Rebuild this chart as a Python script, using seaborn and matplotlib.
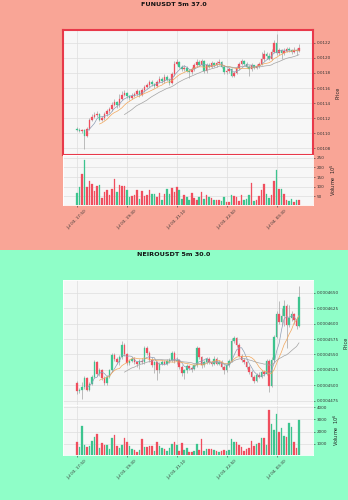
import numpy as np
import pandas as pd
import matplotlib
matplotlib.use("Agg")
import matplotlib.pyplot as plt
from matplotlib.patches import Rectangle
from matplotlib.ticker import FixedLocator, FormatStrFormatter
import seaborn as sns

sns.set_theme(style="whitegrid")
plt.rcParams['font.family'] = ['DejaVu Sans']

# ---------------- FUNUSDT (prices in 1e-6, volume in 1e5) ----------------
fun_open = [11060,11045,11035,11045,10960,11060,11180,11220,11240,11260,
            11180,11200,11250,11290,11320,11380,11410,11370,11460,11510,
            11530,11490,11470,11500,11520,11560,11510,11570,11610,11640,
            11680,11650,11630,11680,11720,11690,11750,11710,11670,11780,
            11920,11950,11880,11850,11870,11830,11810,11850,11900,11950,
            11910,11960,11820,11900,11880,11930,11900,11930,11950,11880,
            11810,11830,11850,11760,11800,11860,11920,11960,11920,11880,
            11850,11900,11870,11890,11920,11980,12050,12020,11990,12080,
            12200,12060,12100,12060,12090,12120,12100,12080,12110,12090]
fun_close = [11045,11035,11045,10960,11060,11180,11220,11240,11260,11180,
             11200,11250,11290,11320,11380,11410,11370,11460,11510,11530,
             11490,11470,11500,11520,11560,11510,11570,11610,11640,11680,
             11650,11630,11680,11720,11690,11750,11710,11670,11780,11920,
             11950,11880,11850,11870,11830,11810,11850,11900,11950,11910,
             11960,11820,11900,11880,11930,11900,11930,11950,11880,11810,
             11830,11850,11760,11800,11860,11920,11960,11920,11880,11850,
             11900,11870,11890,11920,11980,12050,12020,11990,12080,12200,
             12060,12100,12060,12090,12120,12100,12080,12110,12090,12130]
fun_high = [11080,11070,11060,11055,11080,11200,11260,11280,11290,11270,
            11230,11280,11320,11350,11410,11450,11430,11520,11560,11580,
            11550,11510,11530,11550,11590,11570,11600,11640,11670,11710,
            11700,11670,11710,11760,11740,11780,11770,11730,11810,11960,
            11980,11960,11900,11900,11890,11850,11880,11930,11990,11970,
            11990,11970,11930,11930,11960,11950,11960,11980,11960,11900,
            11860,11880,11860,11830,11890,11950,11990,11970,11940,11900,
            11930,11910,11920,11950,12080,12100,12080,12060,12120,12230,
            12320,12130,12120,12130,12150,12140,12120,12140,12130,12180]
fun_low = [11035,11020,11010,10785,10950,11050,11160,11200,11220,11160,
           11160,11180,11230,11270,11300,11360,11340,11350,11440,11490,
           11470,11440,11450,11480,11500,11480,11500,11550,11600,11620,
           11630,11600,11610,11660,11670,11670,11690,11640,11650,11760,
           11900,11860,11820,11830,11810,11730,11790,11830,11880,11890,
           11890,11800,11800,11860,11860,11880,11880,11910,11860,11790,
           11790,11800,11740,11740,11780,11840,11900,11900,11860,11760,
           11830,11850,11850,11870,11900,11960,11990,11970,11970,12060,
           12040,12040,11990,12040,12080,12080,12050,12060,12040,12080]
fun_volume = [70,99,168,240,99,128,112,78,102,107,
              42,73,85,59,88,138,73,108,104,104,
              83,45,53,59,81,39,76,53,57,81,
              65,65,48,69,34,65,86,65,95,73,
              99,85,39,59,45,31,69,42,34,48,
              72,39,55,48,42,34,31,31,28,45,
              22,19,57,50,48,28,55,31,36,55,
              117,28,31,52,83,113,62,42,57,128,
              188,90,86,65,31,28,39,22,34,34]
fun_yticks = [0.0108, 0.0110, 0.0112, 0.0114, 0.0116, 0.0118, 0.0120, 0.0122]
fun_vticks = [50, 100, 150, 200, 250]

# ---------------- NEIROUSDT (prices in 1e-7, volume in 1e6) ----------------
neiro_open = [4503,4490,4492,4497,4512,4492,4502,4514,4538,4518,
              4524,4512,4503,4514,4524,4549,4542,4538,4545,4566,
              4550,4536,4540,4542,4537,4535,4540,4537,4561,4552,
              4541,4533,4537,4524,4535,4538,4535,4539,4541,4553,
              4539,4541,4530,4519,4524,4531,4528,4526,4532,4560,
              4545,4532,4538,4542,4537,4535,4543,4535,4538,4530,
              4524,4532,4540,4572,4577,4566,4548,4541,4537,4530,
              4522,4513,4507,4517,4514,4522,4518,4540,4499,4541,
              4579,4616,4603,4612,4628,4598,4610,4616,4606,4596]
neiro_close = [4490,4492,4497,4512,4492,4502,4514,4538,4518,4524,
               4512,4503,4514,4524,4549,4542,4538,4545,4566,4550,
               4536,4540,4542,4537,4535,4540,4537,4561,4552,4541,
               4533,4537,4524,4535,4538,4535,4539,4541,4553,4539,
               4541,4530,4519,4524,4531,4528,4526,4532,4560,4545,
               4532,4538,4542,4537,4535,4543,4535,4538,4530,4524,
               4532,4540,4572,4577,4566,4548,4541,4537,4530,4522,
               4513,4507,4517,4514,4522,4518,4540,4499,4541,4579,
               4616,4603,4612,4628,4598,4610,4616,4606,4596,4643]
neiro_high = [4507,4495,4505,4515,4514,4505,4517,4541,4540,4528,
              4527,4515,4517,4527,4552,4552,4545,4549,4572,4568,
              4552,4543,4545,4545,4540,4543,4544,4564,4563,4555,
              4545,4540,4540,4538,4541,4541,4542,4544,4556,4555,
              4545,4543,4532,4527,4534,4533,4531,4535,4564,4562,
              4548,4541,4545,4545,4540,4547,4546,4541,4541,4533,
              4536,4543,4576,4580,4579,4569,4551,4544,4540,4533,
              4525,4516,4520,4521,4525,4524,4543,4543,4545,4582,
              4620,4637,4625,4638,4632,4630,4620,4618,4609,4662]
neiro_low = [4486,4488,4477,4494,4490,4490,4500,4512,4515,4515,
             4509,4500,4501,4512,4522,4540,4535,4533,4543,4547,
             4533,4533,4537,4534,4530,4527,4534,4535,4549,4538,
             4530,4520,4508,4520,4532,4532,4533,4536,4538,4536,
             4535,4527,4515,4510,4520,4525,4522,4524,4530,4542,
             4528,4529,4535,4534,4531,4533,4532,4532,4527,4518,
             4521,4529,4538,4568,4562,4545,4538,4534,4527,4518,
             4509,4504,4505,4511,4512,4515,4516,4489,4497,4538,
             4577,4600,4598,4596,4560,4594,4604,4600,4592,4594]
neiro_volume = [1131,783,2472,917,729,836,1239,1534,1775,676,
                1051,917,917,568,1507,1721,863,649,917,1453,
                1131,863,595,488,381,515,1400,756,729,810,
                810,434,1185,863,676,568,461,676,1024,1158,
                890,461,1051,515,649,327,327,461,997,515,
                1400,434,595,595,595,488,461,381,434,515,
                461,542,1426,1131,1131,944,756,434,622,702,
                1239,836,970,1051,1507,1507,917,3786,2606,2123,
                3464,1989,2257,1641,1534,2740,2338,1158,702,2928]
neiro_yticks = [0.0004475, 0.0004500, 0.0004525, 0.0004550,
                0.0004575, 0.0004600, 0.0004625, 0.0004650]
neiro_vticks = [1000, 2000, 3000, 4000]

start_time = "2024-07-03 17:50"
tick_every = 20
ma_windows = [5, 10, 20]

RED = "#F04E5E"
GREEN = "#3CC48E"
MA_COLORS = ["#8E9DB5", "#F2A65A", "#A3A3A3"]
W, H = 348, 500


def draw_panel(fig, y_off, bg, title, o, h, l, c, v, scale, up_col, dn_col,
               ylim, yticks, yfmt, vticks, vexp, highlight):
    # panel background
    fig.patches.append(Rectangle((0, 1 - (y_off + 250) / H), 1, 250 / H,
                                 transform=fig.transFigure, facecolor=bg,
                                 edgecolor="none", zorder=-10))
    fig.text(0.5, 1 - (y_off + 5) / H, title, ha="center", va="center",
             fontsize=4.6, fontweight="bold", color="#111111")

    left, width = 63 / W, 250 / W
    axp = fig.add_axes([left, 1 - (y_off + 155) / H, width, 125 / H])
    axv = fig.add_axes([left, 1 - (y_off + 205) / H, width, 50 / H], sharex=axp)

    df = pd.DataFrame({"open": np.array(o) * scale, "high": np.array(h) * scale,
                       "low": np.array(l) * scale, "close": np.array(c) * scale,
                       "volume": v})
    df["idx"] = np.arange(len(df))
    up = df["close"] >= df["open"]
    cols = np.where(up, up_col, dn_col)

    for ax in (axp, axv):
        ax.set_facecolor("#F7F7F7")
        ax.grid(True, color="#DEDEDE", linewidth=0.5)
        ax.set_axisbelow(True)
        ax.yaxis.tick_right()
        ax.yaxis.set_label_position("right")
        ax.tick_params(axis="both", labelsize=3, length=1.5, width=0.4,
                       pad=1.2, colors="#333333", right=True, bottom=True)
        for s in ax.spines.values():
            s.set_color("#FFFFFF")
            s.set_linewidth(0.6)

    # wicks and bodies
    axp.vlines(df["idx"], df["low"], df["high"], color="#9A9A9A",
               linewidth=0.45, zorder=2)
    body = (df["close"] - df["open"]).abs()
    body = np.maximum(body, (ylim[1] - ylim[0]) * 0.004)
    axp.bar(df["idx"], body, bottom=np.minimum(df["open"], df["close"]),
            width=0.62, color=cols, edgecolor=cols, linewidth=0.2, zorder=3)

    # moving averages
    for win, mc in zip(ma_windows, MA_COLORS):
        ma = df["close"].rolling(win).mean()
        sns.lineplot(x=df["idx"], y=ma, ax=axp, color=mc, linewidth=0.5,
                     zorder=4)
    axp.set_ylim(*ylim)
    axp.yaxis.set_major_locator(FixedLocator(yticks))
    axp.yaxis.set_major_formatter(FormatStrFormatter(yfmt))
    axp.set_ylabel("Price", fontsize=3.6, labelpad=3, color="#222222")
    axp.set_xlabel("")
    axp.tick_params(axis="x", labelbottom=False, length=0)

    if highlight:
        for s in axp.spines.values():
            s.set_color("#E8394A")
            s.set_linewidth(1.5)

    # volume
    axv.bar(df["idx"], df["volume"], width=0.62, color=cols, edgecolor=cols,
            linewidth=0.2, zorder=3)
    vmin, vmax = np.min(v), np.max(v)
    axv.set_ylim(0.3 * vmin, 1.1 * vmax)
    axv.yaxis.set_major_locator(FixedLocator(vticks))
    axv.yaxis.set_major_formatter(FormatStrFormatter("%d"))
    axv.set_ylabel("Volume  $10^{%d}$" % vexp, fontsize=3.6, labelpad=3,
                   color="#222222")

    times = pd.date_range(start_time, periods=len(df), freq="5min")
    pos = list(range(0, len(df), tick_every))
    axv.xaxis.set_major_locator(FixedLocator(pos))
    axv.set_xticklabels([times[p].strftime("%b %d, %H:%M") for p in pos],
                        rotation=45, ha="center", fontsize=3)
    axp.set_xlim(-5.6, len(df) + 4.6)
    return axp, axv


fig = plt.figure(figsize=(W / 100, H / 100), dpi=100)
fig.patch.set_facecolor("#F9A596")

draw_panel(fig, 0, "#F9A596", "FUNUSDT 5m 37.0", fun_open, fun_high, fun_low,
           fun_close, fun_volume, 1e-6, RED, GREEN, (0.010712, 0.012369),
           fun_yticks, "%.4f", fun_vticks, 5, True)
draw_panel(fig, 250, "#8FFEC8", "NEIROUSDT 5m 30.0", neiro_open, neiro_high,
           neiro_low, neiro_close, neiro_volume, 1e-7, GREEN, RED,
           (0.00044677, 0.0004671), neiro_yticks, "%.7f", neiro_vticks, 6, False)

fig.savefig("out.png", dpi=100, facecolor=fig.get_facecolor())
